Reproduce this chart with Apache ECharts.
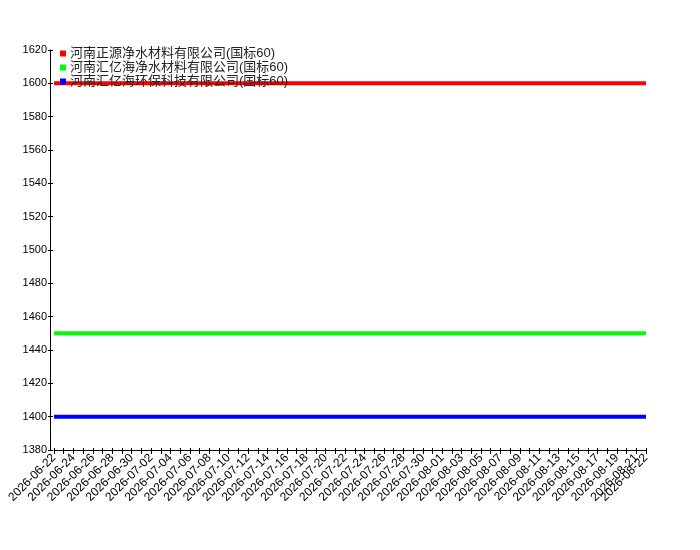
<!DOCTYPE html>
<html style="height: 100%">
<head>
<meta charset="utf-8">
</head>
<body style="height: 100%; margin: 0">
<div id="container" style="width: 700px; height: 550px"></div>
<script src="https://cdn.jsdelivr.net/npm/echarts/dist/echarts.min.js"></script>
<script>
// 日期：2026-06-22 ~ 2026-08-22，每天一个
var dates = [
    '2026-06-22','2026-06-23','2026-06-24','2026-06-25','2026-06-26','2026-06-27','2026-06-28','2026-06-29','2026-06-30',
    '2026-07-01','2026-07-02','2026-07-03','2026-07-04','2026-07-05','2026-07-06','2026-07-07','2026-07-08','2026-07-09','2026-07-10',
    '2026-07-11','2026-07-12','2026-07-13','2026-07-14','2026-07-15','2026-07-16','2026-07-17','2026-07-18','2026-07-19','2026-07-20',
    '2026-07-21','2026-07-22','2026-07-23','2026-07-24','2026-07-25','2026-07-26','2026-07-27','2026-07-28','2026-07-29','2026-07-30','2026-07-31',
    '2026-08-01','2026-08-02','2026-08-03','2026-08-04','2026-08-05','2026-08-06','2026-08-07','2026-08-08','2026-08-09','2026-08-10',
    '2026-08-11','2026-08-12','2026-08-13','2026-08-14','2026-08-15','2026-08-16','2026-08-17','2026-08-18','2026-08-19','2026-08-20',
    '2026-08-21','2026-08-22'
];
var names = ['河南正源净水材料有限公司(国标60)', '河南汇亿海净水材料有限公司(国标60)', '河南汇亿海环保科技有限公司(国标60)'];
var colors = ['#ff0000', '#00ff00', '#0000ff'];
// 每家价格不变
var price1 = [1600,1600,1600,1600,1600,1600,1600,1600,1600,1600,1600,1600,1600,1600,1600,1600,1600,1600,1600,1600,1600,1600,1600,1600,1600,1600,1600,1600,1600,1600,1600,1600,1600,1600,1600,1600,1600,1600,1600,1600,1600,1600,1600,1600,1600,1600,1600,1600,1600,1600,1600,1600,1600,1600,1600,1600,1600,1600,1600,1600,1600,1600];
var price2 = [1450,1450,1450,1450,1450,1450,1450,1450,1450,1450,1450,1450,1450,1450,1450,1450,1450,1450,1450,1450,1450,1450,1450,1450,1450,1450,1450,1450,1450,1450,1450,1450,1450,1450,1450,1450,1450,1450,1450,1450,1450,1450,1450,1450,1450,1450,1450,1450,1450,1450,1450,1450,1450,1450,1450,1450,1450,1450,1450,1450,1450,1450];
var price3 = [1400,1400,1400,1400,1400,1400,1400,1400,1400,1400,1400,1400,1400,1400,1400,1400,1400,1400,1400,1400,1400,1400,1400,1400,1400,1400,1400,1400,1400,1400,1400,1400,1400,1400,1400,1400,1400,1400,1400,1400,1400,1400,1400,1400,1400,1400,1400,1400,1400,1400,1400,1400,1400,1400,1400,1400,1400,1400,1400,1400,1400,1400];
var yMin = 1380, yMax = 1620, yStep = 20;

var myChart = echarts.init(document.getElementById('container'));
var font = '"Liberation Sans", "Noto Sans CJK SC", sans-serif';
var allData = [price1, price2, price3];
var lastIdx = dates.length - 1;
var series = [];
for (var i = 0; i < names.length; i++) {
    series.push({
        name: names[i],
        type: 'line',
        data: allData[i],
        showSymbol: false,
        lineStyle: {color: colors[i], width: 4},
        itemStyle: {color: colors[i]}
    });
}
var xLabel = {rotate: 45, color: '#000', fontSize: 12, fontFamily: font, margin: 6};
var option = {
    animation: false,
    textStyle: {fontFamily: font},
    legend: {
        orient: 'vertical',
        left: 60,
        top: 47,
        padding: 0,
        itemWidth: 6,
        itemHeight: 6,
        itemGap: 1,
        icon: 'rect',
        textStyle: {fontSize: 13, color: '#222', fontFamily: font, padding: [0, 0, 0, -1]},
        data: names
    },
    grid: {left: 54, right: 54, top: 50, bottom: 100},
    xAxis: [{
        type: 'category',
        boundaryGap: false,
        position: 'bottom',
        data: dates,
        axisLine: {lineStyle: {color: '#000'}},
        axisTick: {interval: 0, length: 4, lineStyle: {color: '#000'}},
        axisLabel: Object.assign({interval: 1}, xLabel)
    }, {
        // 只显示最后一个日期，同时画向内的短刻度
        type: 'category',
        boundaryGap: false,
        position: 'bottom',
        data: dates,
        axisLine: {show: false},
        axisTick: {interval: 0, inside: true, length: 2, lineStyle: {color: '#000'}},
        axisLabel: Object.assign({interval: function (idx) { return idx === lastIdx; }}, xLabel)
    }],
    yAxis: [{
        type: 'value',
        min: yMin,
        max: yMax,
        interval: yStep,
        offset: 4,
        splitLine: {show: false},
        axisLine: {show: true, lineStyle: {color: '#000'}},
        axisTick: {show: true, length: 2, lineStyle: {color: '#000'}},
        axisLabel: {color: '#000', fontSize: 11, fontFamily: font, margin: 3,
            formatter: function (v) { return String(v); }}
    }, {
        type: 'value',
        min: yMin,
        max: yMax,
        interval: yStep,
        position: 'left',
        offset: 4,
        splitLine: {show: false},
        axisLine: {show: false},
        axisTick: {show: true, inside: true, length: 3, lineStyle: {color: '#000'}},
        axisLabel: {show: false}
    }],
    series: series
};
myChart.setOption(option);
</script>
</body>
</html>
